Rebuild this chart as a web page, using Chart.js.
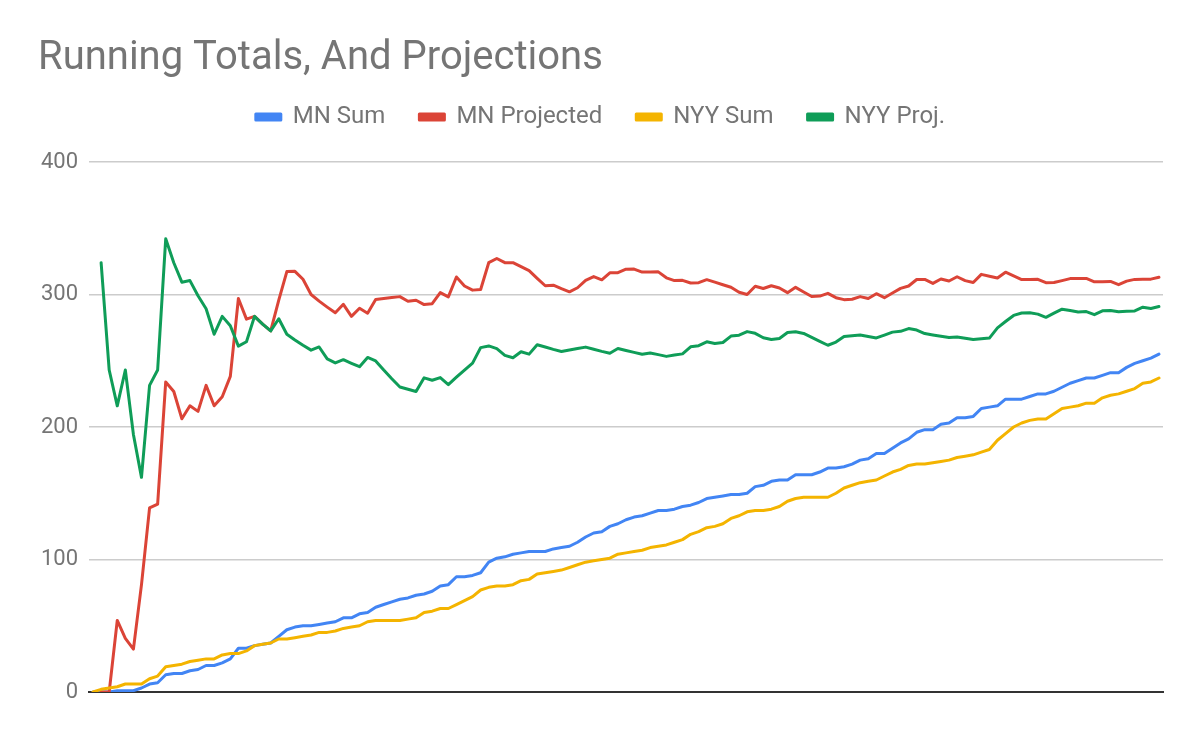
<!DOCTYPE html>
<html>
<head>
<meta charset="utf-8">
<title>Running Totals, And Projections</title>
<script src="https://cdn.jsdelivr.net/npm/chart.js@4"></script>
<style>
  html, body { margin: 0; padding: 0; background: #fff; }
  #wrap { width: 1200px; height: 742px; }
</style>
</head>
<body>
<div id="wrap"><canvas id="runningTotals"></canvas></div>
<script>
// game number (0 = before opening day)
const games = [
  0, 1, 2, 3, 4, 5, 6, 7, 8, 9, 10, 11, 12, 13, 14, 15, 16, 17, 18, 19,
  20, 21, 22, 23, 24, 25, 26, 27, 28, 29, 30, 31, 32, 33, 34, 35, 36, 37, 38, 39,
  40, 41, 42, 43, 44, 45, 46, 47, 48, 49, 50, 51, 52, 53, 54, 55, 56, 57, 58, 59,
  60, 61, 62, 63, 64, 65, 66, 67, 68, 69, 70, 71, 72, 73, 74, 75, 76, 77, 78, 79,
  80, 81, 82, 83, 84, 85, 86, 87, 88, 89, 90, 91, 92, 93, 94, 95, 96, 97, 98, 99,
  100, 101, 102, 103, 104, 105, 106, 107, 108, 109, 110, 111, 112, 113, 114, 115, 116, 117, 118, 119,
  120, 121, 122, 123, 124, 125, 126, 127, 128, 129, 130, 131, 132
];

const mnSum = [
  0, 0, 0, 1, 1, 1, 3, 6, 7, 13,
  14, 14, 16, 17, 20, 20, 22, 25, 33, 33,
  35, 36, 37, 42, 47, 49, 50, 50, 51, 52,
  53, 56, 56, 59, 60, 64, 66, 68, 70, 71,
  73, 74, 76, 80, 81, 87, 87, 88, 90, 98,
  101, 102, 104, 105, 106, 106, 106, 108, 109, 110,
  113, 117, 120, 121, 125, 127, 130, 132, 133, 135,
  137, 137, 138, 140, 141, 143, 146, 147, 148, 149,
  149, 150, 155, 156, 159, 160, 160, 164, 164, 164,
  166, 169, 169, 170, 172, 175, 176, 180, 180, 184,
  188, 191, 196, 198, 198, 202, 203, 207, 207, 208,
  214, 215, 216, 221, 221, 221, 223, 225, 225, 227,
  230, 233, 235, 237, 237, 239, 241, 241, 245, 248,
  250, 252, 255
];

const mnProjected = [
  null, 0, 0, 54, 40.5, 32.4, 81, 138.9, 141.8, 234,
  226.8, 206.2, 216, 211.8, 231.4, 216, 222.8, 238.2, 297, 281.4,
  283.5, 277.7, 272.5, 295.8, 317.3, 317.5, 311.5, 300, 295, 290.5,
  286.2, 292.6, 283.5, 289.6, 285.9, 296.2, 297, 297.7, 298.4, 294.9,
  295.7, 292.4, 293.1, 301.4, 298.2, 313.2, 306.4, 303.3, 303.8, 324,
  327.2, 324, 324, 321, 318, 312.2, 306.6, 307, 304.4, 302,
  305.1, 310.7, 313.5, 311.1, 316.4, 316.5, 319.1, 319.2, 316.9, 317,
  317.1, 312.6, 310.5, 310.7, 308.7, 308.9, 311.2, 309.3, 307.4, 305.5,
  301.7, 300, 306.2, 304.5, 306.6, 304.9, 301.4, 305.4, 301.9, 298.5,
  298.8, 300.9, 297.6, 296.1, 296.4, 298.4, 297, 300.6, 297.6, 301.1,
  304.6, 306.4, 311.3, 311.4, 308.4, 311.7, 310.2, 313.4, 310.5, 309.1,
  315.2, 313.8, 312.4, 316.8, 314.1, 311.3, 311.4, 311.5, 308.9, 309,
  310.5, 312, 312.1, 312.1, 309.6, 309.7, 309.9, 307.4, 310.1, 311.4,
  311.5, 311.6, 313
];

const nyySum = [
  0, 2, 3, 4, 6, 6, 6, 10, 12, 19,
  20, 21, 23, 24, 25, 25, 28, 29, 29, 31,
  35, 36, 37, 40, 40, 41, 42, 43, 45, 45,
  46, 48, 49, 50, 53, 54, 54, 54, 54, 55,
  56, 60, 61, 63, 63, 66, 69, 72, 77, 79,
  80, 80, 81, 84, 85, 89, 90, 91, 92, 94,
  96, 98, 99, 100, 101, 104, 105, 106, 107, 109,
  110, 111, 113, 115, 119, 121, 124, 125, 127, 131,
  133, 136, 137, 137, 138, 140, 144, 146, 147, 147,
  147, 147, 150, 154, 156, 158, 159, 160, 163, 166,
  168, 171, 172, 172, 173, 174, 175, 177, 178, 179,
  181, 183, 190, 195, 200, 203, 205, 206, 206, 210,
  214, 215, 216, 218, 218, 222, 224, 225, 227, 229,
  233, 234, 237
];

const nyyProj = [
  null, 324, 243, 216, 243, 194.4, 162, 231.4, 243, 342,
  324, 309.3, 310.5, 299.1, 289.3, 270, 283.5, 276.4, 261, 264.3,
  283.5, 277.7, 272.5, 281.7, 270, 265.7, 261.7, 258, 260.4, 251.4,
  248.4, 250.8, 248.1, 245.5, 252.5, 249.9, 243, 236.4, 230.2, 228.5,
  226.8, 237.1, 235.3, 237.3, 232, 237.6, 243, 248.2, 259.9, 261.2,
  259.2, 254.1, 252.3, 256.8, 255, 262.1, 260.4, 258.6, 257, 258.1,
  259.2, 260.3, 258.7, 257.1, 255.7, 259.2, 257.7, 256.3, 254.9, 255.9,
  254.6, 253.3, 254.3, 255.2, 260.5, 261.4, 264.3, 263, 263.8, 268.6,
  269.3, 272, 270.7, 267.4, 266.1, 266.8, 271.3, 271.9, 270.6, 267.6,
  264.6, 261.7, 264.1, 268.3, 268.9, 269.4, 268.3, 267.2, 269.4, 271.6,
  272.2, 274.3, 273.2, 270.5, 269.5, 268.5, 267.5, 268, 267, 266,
  266.6, 267.1, 274.8, 279.6, 284.2, 286, 286.3, 285.2, 282.8, 285.9,
  288.9, 287.9, 286.8, 287.1, 284.8, 287.7, 288, 287, 287.3, 287.6,
  290.4, 289.4, 290.9
];

const yTicks = [0, 100, 200, 300, 400];

// push the plot area down below the legend
const legendGap = {
  id: 'legendGap',
  beforeLayout(chart) {
    const legend = chart.legend;
    if (legend && !legend._gapPatched) {
      const fit = legend.fit;
      legend.fit = function () {
        fit.call(this);
        this.height += 23;
      };
      legend._gapPatched = true;
    }
  }
};

const data = {
  labels: games,
  datasets: [
    { label: 'MN Sum', data: mnSum, borderColor: '#4285f4', backgroundColor: '#4285f4', order: 4 },
    { label: 'MN Projected', data: mnProjected, borderColor: '#db4437', backgroundColor: '#db4437', order: 3 },
    { label: 'NYY Sum', data: nyySum, borderColor: '#f4b400', backgroundColor: '#f4b400', order: 2 },
    { label: 'NYY Proj.', data: nyyProj, borderColor: '#0f9d58', backgroundColor: '#0f9d58', order: 1 }
  ]
};

const config = {
  type: 'line',
  data: data,
  options: {
    responsive: true,
    maintainAspectRatio: false,
    animation: false,
    layout: {
      padding: { left: 38, right: 37, top: 0, bottom: 50 }
    },
    elements: {
      point: { radius: 0 },
      line: { borderWidth: 3, tension: 0, borderJoinStyle: 'round', borderCapStyle: 'round' }
    },
    scales: {
      x: {
        offset: true,
        ticks: { display: false },
        grid: { display: false },
        border: { display: true, color: '#333333', width: 2 },
        afterFit: function (scale) { scale.height = 0; }
      },
      y: {
        min: yTicks[0],
        max: yTicks[yTicks.length - 1],
        afterBuildTicks: function (scale) {
          scale.ticks = yTicks.map(v => ({ value: v }));
        },
        ticks: {
          padding: 11,
          color: '#757575',
          font: { family: 'Roboto', size: 22 }
        },
        grid: { color: '#cccccc', lineWidth: 1.5, drawTicks: false },
        border: { display: false },
        afterFit: function (scale) { scale.width = 51; }
      }
    },
    plugins: {
      title: {
        display: true,
        text: 'Running Totals, And Projections',
        align: 'start',
        color: '#757575',
        font: { family: 'Roboto', size: 40, weight: 'normal', lineHeight: 0.6 },
        padding: { top: 47, bottom: 0 }
      },
      legend: {
        display: true,
        labels: {
          boxWidth: 25,
          boxHeight: 6,
          padding: 34,
          color: '#757575',
          font: { family: 'Roboto', size: 24 },
          sort: (a, b) => a.datasetIndex - b.datasetIndex
        }
      },
      tooltip: { enabled: false }
    }
  },
  plugins: [legendGap]
};

var runningChart = new Chart(
  document.getElementById('runningTotals'),
  config
);
</script>
</body>
</html>
